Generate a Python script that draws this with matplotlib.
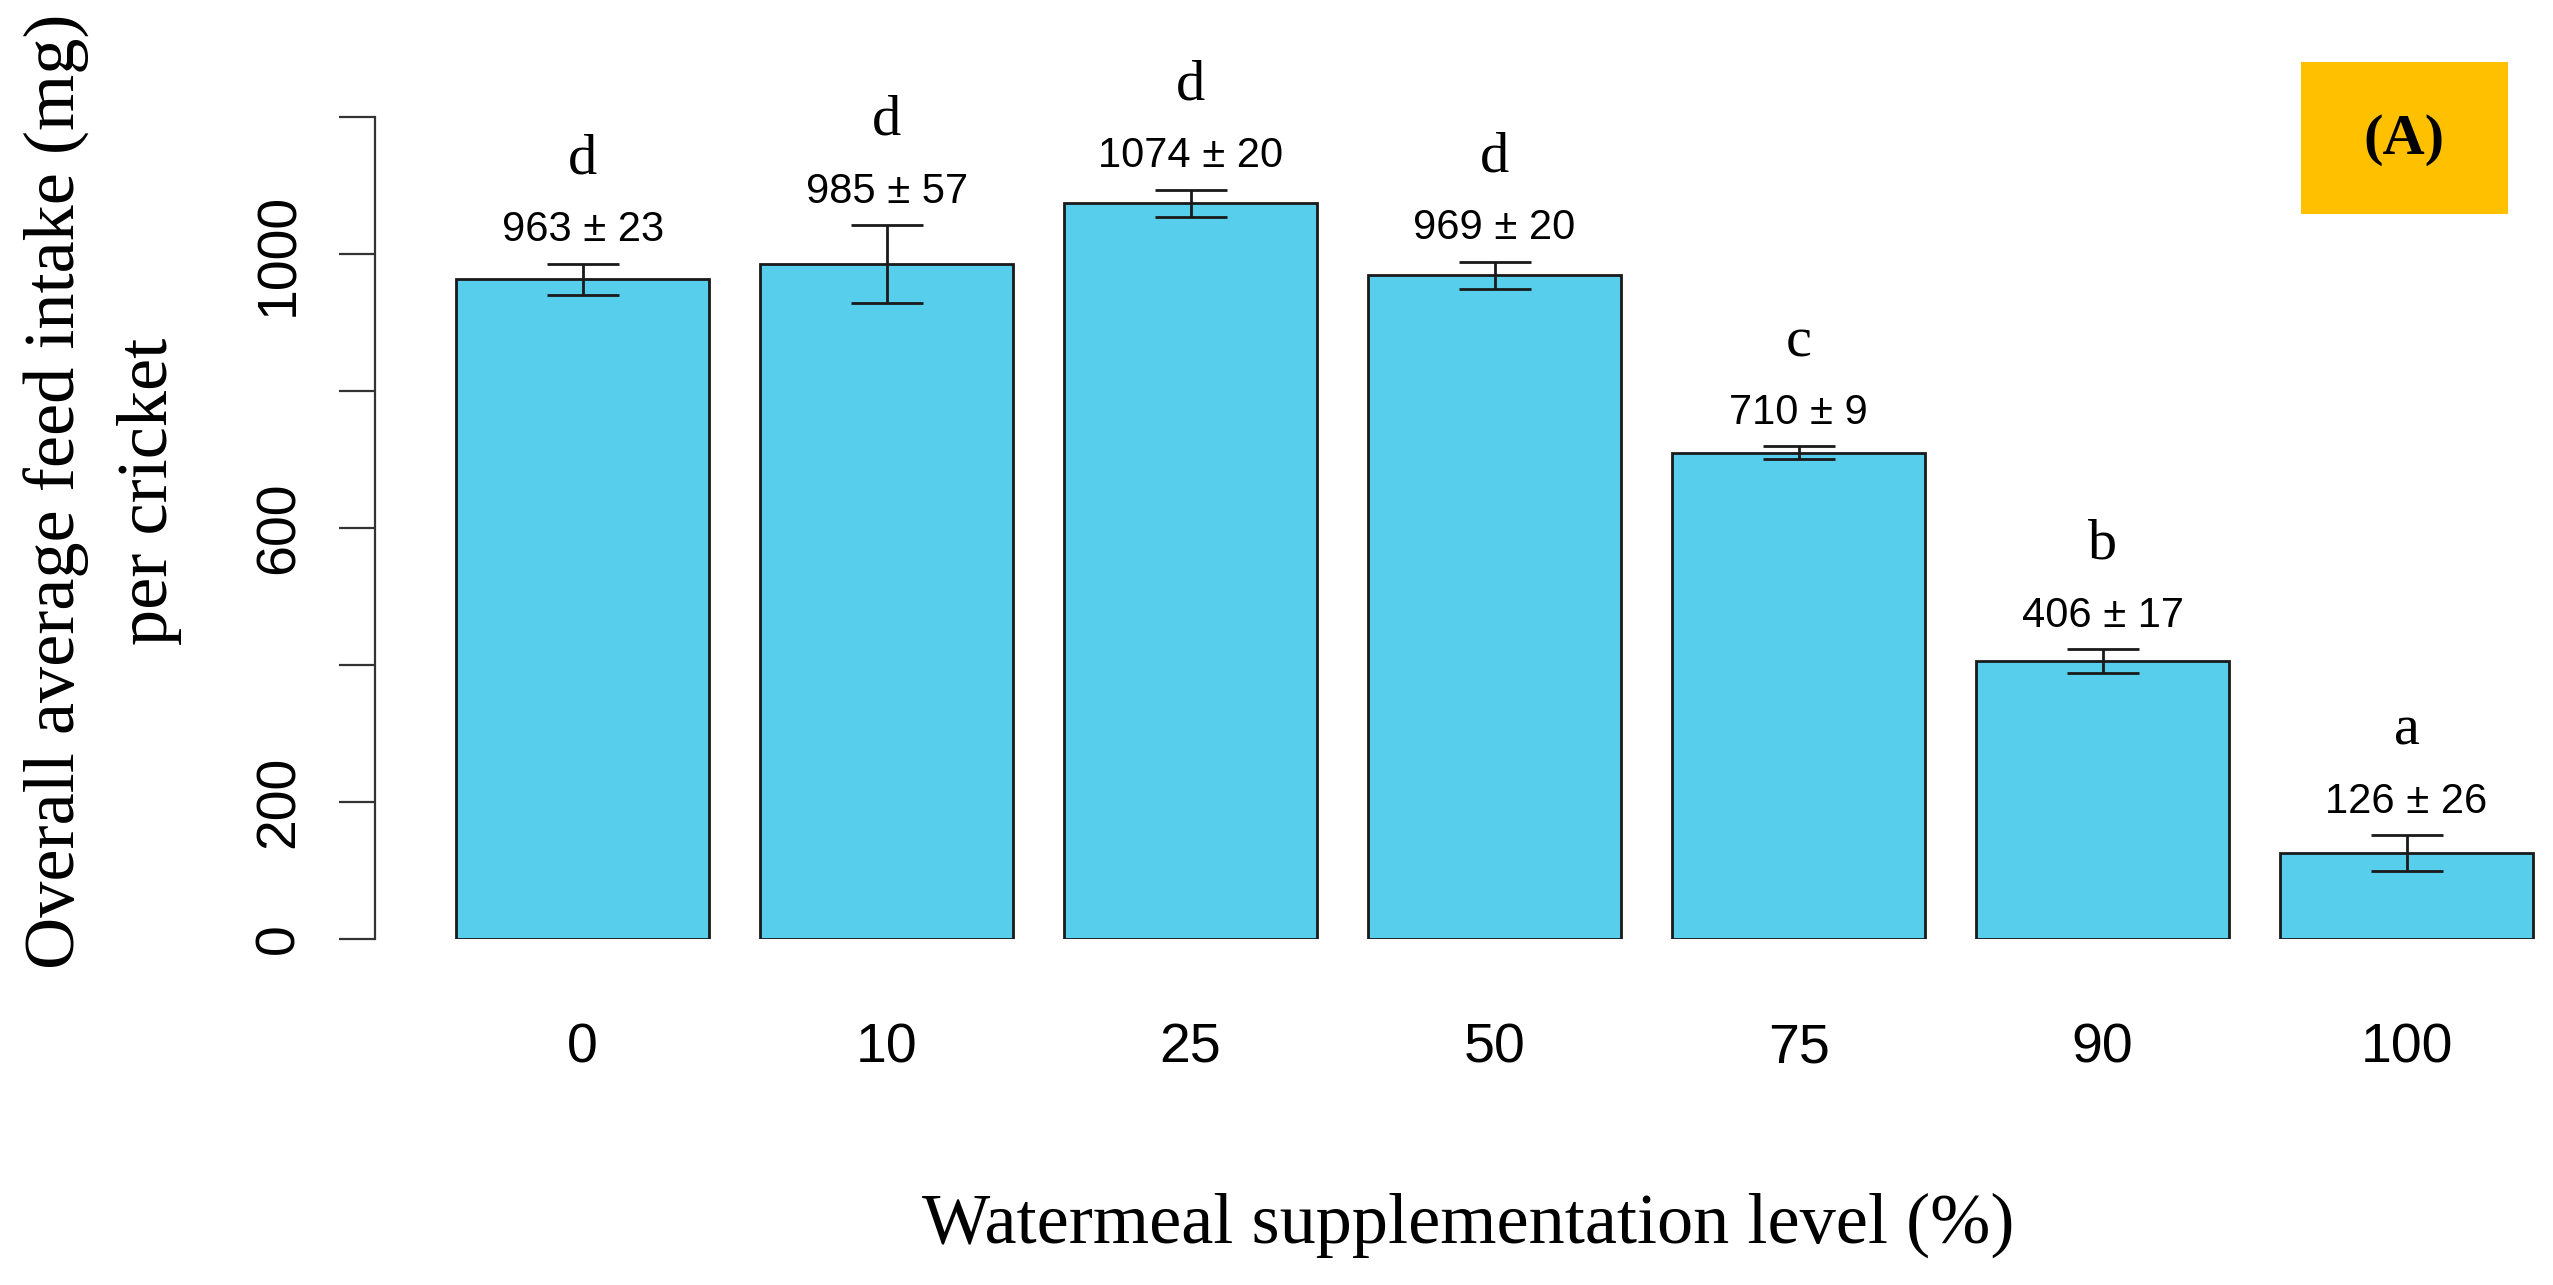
import numpy as np
import matplotlib.pyplot as plt
from matplotlib.patches import Rectangle

# watermeal supplementation level (%) and feed intake per cricket (mg)
levels = ['0', '10', '25', '50', '75', '90', '100']
intake = [963, 985, 1074, 969, 710, 406, 126]
se = [23, 57, 20, 20, 9, 17, 26]
groups = ['d', 'd', 'd', 'd', 'c', 'b', 'a']
yticks = [0, 200, 400, 600, 800, 1000, 1200]
ytick_labels = ['0', '200', '', '600', '', '1000', '']

W, H = 2553, 1285
fig = plt.figure(figsize=(W / 100, H / 100), dpi=100)

# axes placed in pixel terms: y axis line at x=375, y=0 at 939 px, 1200 at 117 px
ax_left, ax_right = 375, 2553
ax_bot, ax_top = 939, 117
ax = fig.add_axes([ax_left / W, (H - ax_bot) / H,
                   (ax_right - ax_left) / W, (ax_bot - ax_top) / H])

x = np.arange(len(levels))
step = 304.0
x0 = -(582.6 - ax_left) / step
ax.set_xlim(x0, x0 + (ax_right - ax_left) / step)
ax.set_ylim(0, 1200)

ax.bar(x, intake, width=253.3 / step, color='#57CEEB',
       edgecolor='#1a1a1a', linewidth=2.0, zorder=2)
ax.errorbar(x, intake, yerr=se, fmt='none', ecolor='#1a1a1a',
            elinewidth=2.0, capsize=26, capthick=2.0, zorder=3)

for xi, m, s, g in zip(x, intake, se, groups):
    ax.annotate('%d \u00b1 %d' % (m, s), xy=(xi, m + s), xytext=(0, 16),
                textcoords='offset points', ha='center', va='baseline',
                fontsize=30, family='Liberation Sans', annotation_clip=False)
    ax.annotate(g, xy=(xi, m + s), xytext=(0, 65),
                textcoords='offset points', ha='center', va='baseline',
                fontsize=42, family='Liberation Serif', annotation_clip=False)

for sp in ['top', 'right', 'bottom']:
    ax.spines[sp].set_visible(False)
ax.spines['left'].set_bounds(0, 1200)
ax.spines['left'].set_linewidth(1.6)
ax.spines['left'].set_color('#333333')

ax.set_yticks(yticks)
ax.set_yticklabels(ytick_labels, family='Liberation Sans', fontsize=40,
                   rotation=90, va='center')
ax.tick_params(axis='y', length=26, width=1.6, color='#333333', pad=24)

ax.set_xticks(x)
ax.set_xticklabels(levels, family='Liberation Sans', fontsize=40)
ax.tick_params(axis='x', length=0, pad=60)

# axis titles
fig.text(57 / W, 1 - 491 / H, 'Overall average feed intake (mg)', rotation=90,
         ha='center', va='center', fontsize=52, family='Liberation Serif')
fig.text(150 / W, 1 - 491 / H, 'per cricket', rotation=90,
         ha='center', va='center', fontsize=52, family='Liberation Serif')
fig.text(1468 / W, 1 - 1225 / H, 'Watermeal supplementation level (%)',
         ha='center', va='center', fontsize=52, family='Liberation Serif')

# panel tag
fig.patches.append(Rectangle((2301 / W, 1 - 214 / H), 207 / W, 152 / H,
                             transform=fig.transFigure, facecolor='#FFC000',
                             edgecolor='none'))
fig.text(2404 / W, 1 - 140 / H, '(A)', ha='center', va='center',
         fontsize=42, fontweight='bold', family='Liberation Serif')

fig.savefig('out.png', dpi=100)
